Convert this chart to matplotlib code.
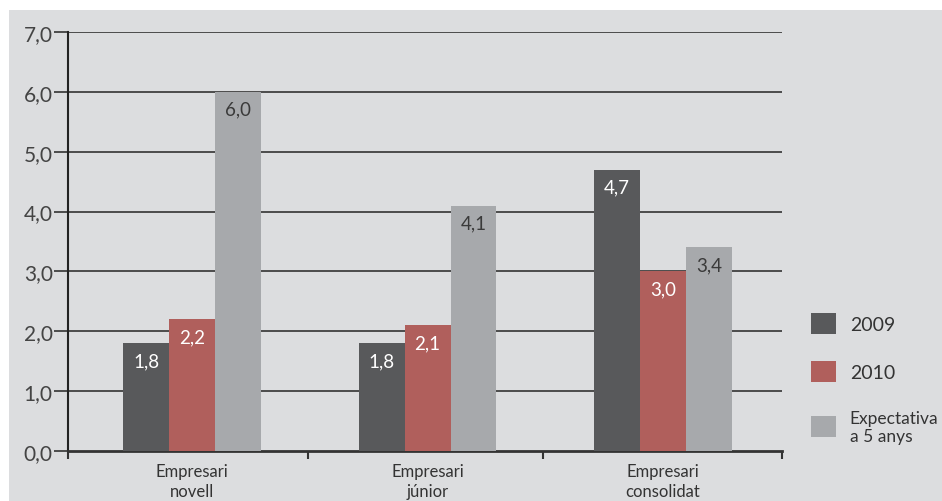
import matplotlib.pyplot as plt
from matplotlib.patches import Rectangle

categories = ["Empresari\nnovell", "Empresari\njúnior", "Empresari\nconsolidat"]
series_names = ["2009", "2010", "Expectativa\na 5 anys"]
v2009 = [1.8, 1.8, 4.7]
v2010 = [2.2, 2.1, 3.0]
vexp = [6.0, 4.1, 3.4]
yticks = [0, 1, 2, 3, 4, 5, 6, 7]

colors = ["#58595b", "#b05f5c", "#a7a9ac"]
label_colors = ["white", "white", "#3a3a3a"]
bg = "#dcdddf"

plt.rcParams['font.family'] = ['Lato', 'DejaVu Sans']

fig = plt.figure(figsize=(9.42, 5.02), dpi=100)
fig.patch.set_facecolor("white")
fig.patches.append(Rectangle((9 / 942, 0), 1, 1 - 11 / 502, transform=fig.transFigure,
                             facecolor=bg, edgecolor="none", zorder=-5))

ax = fig.add_axes([68 / 942, 1 - 452 / 502, (782 - 68) / 942, (452 - 33) / 502])
ax.set_facecolor("none")

width = 0.195
x = list(range(len(categories)))
for i, (vals, c, lc) in enumerate(zip([v2009, v2010, vexp], colors, label_colors)):
    xs = [xi + (i - 1) * width for xi in x]
    ax.bar(xs, vals, width=width, color=c, zorder=3, label=series_names[i])
    for xx, v in zip(xs, vals):
        ax.text(xx, v - 0.15, f"{v:.1f}".replace(".", ","), ha="center", va="top",
                color=lc, fontsize=13.5, zorder=4)

ax.set_xlim(-0.527, 2.505)
ax.set_ylim(0, 7)
for t in yticks[1:]:
    ax.axhline(t, color="#333333", lw=1.2, zorder=1)

ax.set_yticks(yticks)
ax.set_yticklabels([f"{t},0" for t in yticks], fontsize=15, color="#444444")
ax.tick_params(axis="y", length=10, width=1.2, color="#333333", pad=1)

ax.set_xticks([-0.527, 0.492, 1.49, 2.505])
ax.set_xticklabels([])
ax.set_xticks(x, minor=True)
ax.set_xticklabels(categories, minor=True, fontsize=12, color="#333333", linespacing=1.3)
ax.tick_params(axis="x", which="major", length=6, width=1.5, color="#333333")
ax.tick_params(axis="x", which="minor", length=0, pad=9)

for s in ["top", "right"]:
    ax.spines[s].set_visible(False)
ax.spines["left"].set_color("#222222")
ax.spines["left"].set_linewidth(1.5)
ax.spines["bottom"].set_color("#333333")
ax.spines["bottom"].set_linewidth(2)

leg = ax.legend(loc="upper left", bbox_to_anchor=(803 / 942, 1 - 306 / 502),
                bbox_transform=fig.transFigure, frameon=False,
                handlelength=1.3, handleheight=1.3, labelspacing=1.4, handletextpad=0.7,
                borderaxespad=0, prop={"size": 14})
for t in leg.get_texts():
    t.set_color("#333333")
leg.get_texts()[2].set_fontsize(12.5)

fig.savefig("out.png", dpi=100, facecolor=fig.get_facecolor())
